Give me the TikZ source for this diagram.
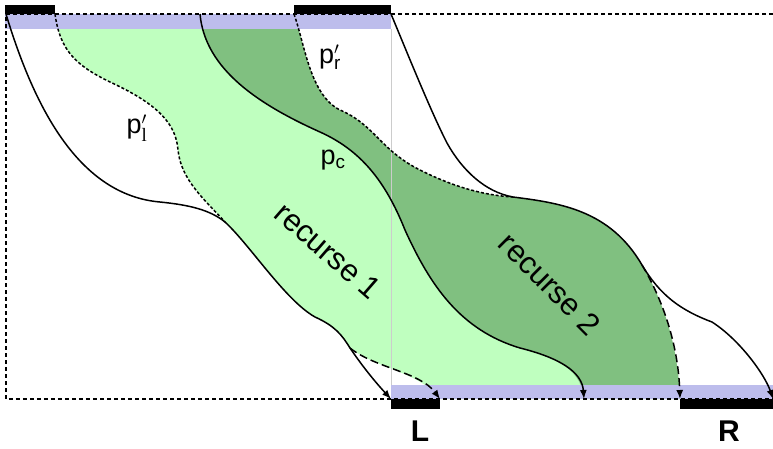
\documentclass[tikz,border=0pt]{standalone}
\usepackage{amsmath}
\usepackage{fontspec}
\setmainfont{Liberation Sans}
\newfontfamily\serifface{Liberation Serif}
\usetikzlibrary{arrows.meta}

\definecolor{bandblue}{RGB}{189,189,236}
\definecolor{lightgr}{RGB}{191,255,191}
\definecolor{darkgr}{RGB}{128,192,128}

% paths that are both filled and drawn
\newcommand{\pcpath}{(200,14) .. controls (205,70) and (260,105) .. (320,132)
  .. controls (360,150) and (385,180) .. (405,230)
  .. controls (430,285) and (460,330) .. (520,348)
  .. controls (560,358) and (582,372) .. (584,399)}
\newcommand{\leftedge}{(55,14) .. controls (60,50) and (75,65) .. (110,82)
  .. controls (160,105) and (176,125) .. (178,150)
  .. controls (181,180) and (205,200) .. (jl)
  .. controls (250,245) and (285,300) .. (315,317)
  .. controls (335,326) and (342,335) .. (bl)
  .. controls (375,368) and (420,372) .. (440,399)}
\newcommand{\rightedge}{(294,14) .. controls (305,45) and (310,95) .. (340,110)
  .. controls (375,125) and (380,150) .. (420,170)
  .. controls (450,185) and (480,195) .. (jr)
  .. controls (560,203) and (610,210) .. (br)
  .. controls (660,295) and (678,340) .. (680,399)}

\begin{document}
\begin{tikzpicture}[x=1pt,y=-1pt,
  pline/.style={line width=1.5pt},
  ar/.style={pline,-{Latex[length=9pt,width=7pt]}},
  fine/.style={pline,dash pattern=on 3pt off 2pt},
  coarse/.style={dash pattern=on 8pt off 4pt},
  frame/.style={line width=1.4pt,dash pattern=on 4pt off 3pt},
  lbl/.style={font=\fontsize{27}{30}\selectfont,inner sep=0pt},
  rec/.style={font=\fontsize{31}{36}\selectfont,inner sep=0pt},
  side/.style={font=\fontsize{30}{36}\selectfont\bfseries,inner sep=0pt}
]
\useasboundingbox (0,0) rectangle (773,448);

% junctions of the paths
\coordinate (jl) at (225,222);
\coordinate (bl) at (350,348);
\coordinate (jr) at (513,197);
\coordinate (br) at (642,265);

% recursion areas
\begin{scope}
  \clip \pcpath -- (584,399) -- (0,399) -- (0,14) -- cycle;
  \fill[lightgr] \leftedge -- (773,399) -- (773,14) -- cycle;
\end{scope}
\begin{scope}
  \clip \pcpath -- (773,399) -- (773,14) -- cycle;
  \fill[darkgr] \rightedge -- (0,399) -- (0,14) -- cycle;
\end{scope}

% bands, frame and bars
\fill[bandblue] (5,14) rectangle (391,29);
\fill[bandblue] (391,385) rectangle (773,399);
\draw[gray!40,line width=0.8pt] (391.5,29) -- (391.5,385);
\draw[frame] (773,14) -- (6,14) -- (6,399) -- (773,399);
\fill (5,5) rectangle (55,14);
\fill (294,5) rectangle (391,14);
\fill (391,399) rectangle (440,409);
\fill (680,399) rectangle (773,409);

% p'_l and p'_r
\draw[fine] (55,14) .. controls (60,50) and (75,65) .. (110,82)
  .. controls (160,105) and (176,125) .. (178,150)
  .. controls (181,180) and (205,200) .. (jl);
\draw[fine] (294,14) .. controls (305,45) and (310,95) .. (340,110)
  .. controls (375,125) and (380,150) .. (420,170)
  .. controls (450,185) and (480,195) .. (jr);

% solid paths
\draw[ar] (6,14) .. controls (35,110) and (80,195) .. (160,202)
  .. controls (190,205) and (210,210) .. (jl)
  .. controls (250,245) and (285,300) .. (315,317)
  .. controls (335,326) and (342,335) .. (bl)
  .. controls (365,370) and (378,385) .. (391,399);
\draw[ar] \pcpath;
\draw[ar] (391,14) .. controls (402,40) and (430,110) .. (447,143)
  .. controls (462,170) and (485,192) .. (jr)
  .. controls (560,203) and (610,210) .. (br)
  .. controls (660,295) and (680,310) .. (712,322)
  .. controls (740,340) and (765,375) .. (773,399);

% dashed endings
\draw[ar,coarse] (bl) .. controls (375,368) and (420,372) .. (440,399);
\draw[ar,coarse] (br) .. controls (660,295) and (678,340) .. (680,399);

% labels
\node[lbl] (pr) at (330,57) {p$'_{\text{r}}$};
\node[lbl] (pl) at (137,128) {p$'_{\text{\serifface l}}$};
\node[lbl] (pc) at (333,160) {p$_{\text{c}}$};
\node[rec,rotate=-41] (rec1) at (328,251) {recurse 1};
\node[rec,rotate=-45] (rec2) at (550,284) {recurse 2};
\node[side] (L) at (420,431) {L};
\node[side] (R) at (729,431) {R};
\end{tikzpicture}
\end{document}
